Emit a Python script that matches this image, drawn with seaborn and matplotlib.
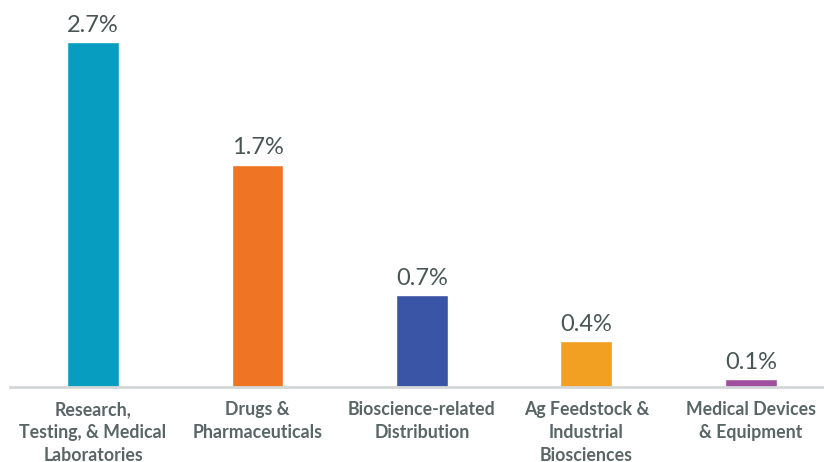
import pandas as pd
import matplotlib
matplotlib.use("Agg")
import matplotlib.pyplot as plt
import seaborn as sns

# Données du graphique
categorias = ["Research,\nTesting, & Medical\nLaboratories", "Drugs &\nPharmaceuticals",
              "Bioscience-related\nDistribution", "Ag Feedstock &\nIndustrial\nBiosciences",
              "Medical Devices\n& Equipment"]
valores = [2.7, 1.74, 0.72, 0.36, 0.06]
rotulos = ["2.7%", "1.7%", "0.7%", "0.4%", "0.1%"]
cores = ["#069DC1", "#EF7424", "#3B55A6", "#F1A021", "#A04F9F"]

df = pd.DataFrame({"Categoria": categorias, "Valor": valores})

sns.set_theme(style="white")
fig = plt.figure(figsize=(8.24, 4.62), dpi=100)
ax = fig.add_axes([10 / 824, 75 / 462, 814 / 824, 387 / 462])

sns.barplot(data=df, x="Categoria", y="Valor", hue="Categoria", palette=cores,
            width=0.315, legend=False, ax=ax, saturation=1)

# Rótulos em cima das barras
for i, (v, r) in enumerate(zip(valores, rotulos)):
    ax.text(i, v + 0.05, r, ha="center", va="bottom", fontsize=17, color="#4A5656",
            family="Lato", fontweight="normal")

ax.set_xlim(-0.505, 4.445)
ax.set_ylim(0, 3.03)
ax.set_xlabel("")
ax.set_ylabel("")
ax.set_yticks([])
for s in ["top", "right", "left"]:
    ax.spines[s].set_visible(False)
ax.spines["bottom"].set_color("#D3D7D7")
ax.spines["bottom"].set_linewidth(2)
ax.tick_params(axis="x", length=0, pad=10)
for lbl in ax.get_xticklabels():
    lbl.set_fontsize(12.8)
    lbl.set_fontweight("bold")
    lbl.set_family("Lato")
    lbl.set_color("#5A6566")
    lbl.set_linespacing(1.42)
    lbl.set_verticalalignment("top")

fig.savefig("out.png", dpi=100)
